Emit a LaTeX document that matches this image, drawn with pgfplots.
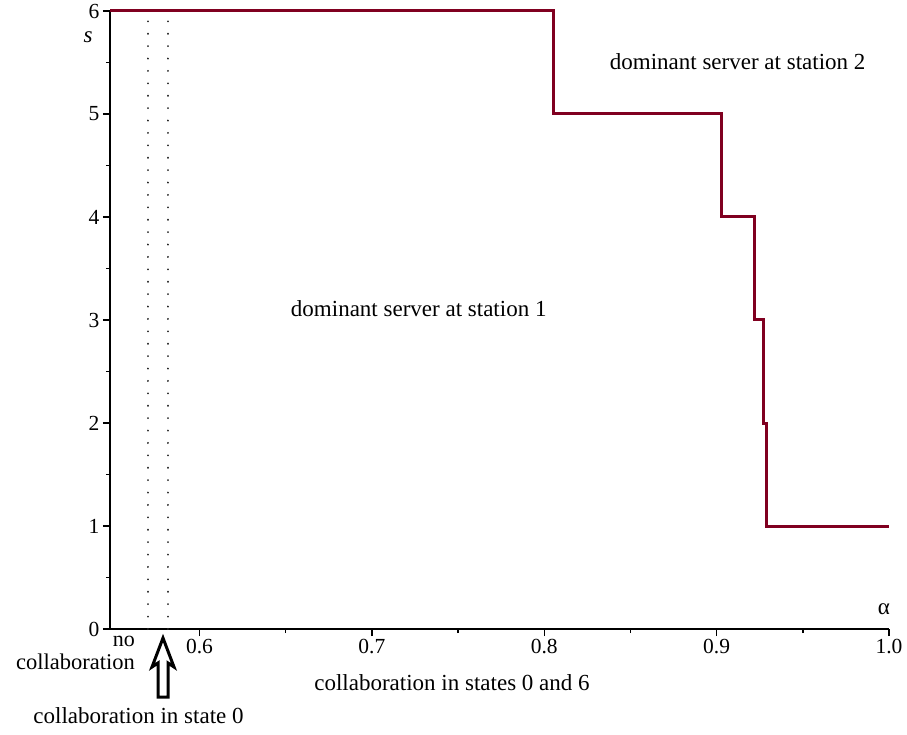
\documentclass[border=0pt]{standalone}
\usepackage{pgfplots}
\pgfplotsset{compat=1.18}
\usepackage{fontspec}
\setmainfont{Liberation Serif}
\definecolor{stepred}{RGB}{128,0,32}
\begin{document}
\begin{tikzpicture}[x=1pt,y=1pt]
\useasboundingbox (-110,-105) rectangle (797,629);
\begin{axis}[
  at={(0,0)}, anchor=south west,
  scale only axis, width=779pt, height=618pt,
  xmin=0.5481, xmax=1.0, ymin=0, ymax=6,
  axis x line*=bottom, axis y line*=left,
  axis line style={line width=1.4pt,-},
  every outer x axis line/.append style={-},
  every outer y axis line/.append style={-},
  xtick={0.6,0.7,0.8,0.9,1.0},
  ytick={0,1,2,3,4,5,6},
  minor x tick num=1, minor y tick num=1,
  tick align=outside,
  major tick length=7pt, minor tick length=4pt,
  tick style={line width=1.4pt,black},
  xticklabel style={/pgf/number format/.cd, fixed, fixed zerofill, precision=1, assume math mode=true},
  yticklabel style={/pgf/number format/assume math mode=true},
  tick label style={font=\fontsize{21.5}{24}\selectfont},
  clip=false,
]
\addplot[black!85, line width=2pt, line cap=round, dash pattern=on 0.1pt off 12.3pt] coordinates {(0.5700,0) (0.5700,6)};
\addplot[black!85, line width=2pt, line cap=round, dash pattern=on 0.1pt off 12.3pt] coordinates {(0.5815,0) (0.5815,6)};
\addplot[stepred, line width=3pt, line join=miter] coordinates {
 (0.5481,6) (0.8051,6) (0.8051,5) (0.9031,5) (0.9031,4) (0.9220,4) (0.9220,3)
 (0.9274,3) (0.9274,2) (0.9288,2) (0.9288,1) (1.0,1)};
\node[font=\fontsize{23}{26}\selectfont] at (axis cs:0.9122,5.505) {dominant server at station 2};
\node[font=\fontsize{23}{26}\selectfont] at (axis cs:0.7272,3.107) {dominant server at station 1};
\end{axis}
\node[font=\fontsize{23}{26}\selectfont\itshape] at (-22,592) {s};
\node[font=\fontsize{23}{26}\selectfont] at (774,20) {α};
\node[font=\fontsize{22}{26}\selectfont, anchor=base east, inner sep=0pt] at (25,-17) {no};
\node[font=\fontsize{22.5}{26}\selectfont, anchor=base east, inner sep=0pt] at (25,-40) {collaboration};
\node[font=\fontsize{23}{26}\selectfont, anchor=base, inner sep=0pt] at (342,-61) {collaboration in states 0 and 6};
\node[font=\fontsize{23}{26}\selectfont, anchor=base, inner sep=0pt] at (28.5,-94) {collaboration in state 0};
\draw[black, line width=3pt, fill=white, line join=miter]
  (53,-9) -- (64,-38) -- (58,-34) -- (58,-68) -- (48,-68) -- (48,-34) -- (42,-38) -- cycle;
\end{tikzpicture}
\end{document}
